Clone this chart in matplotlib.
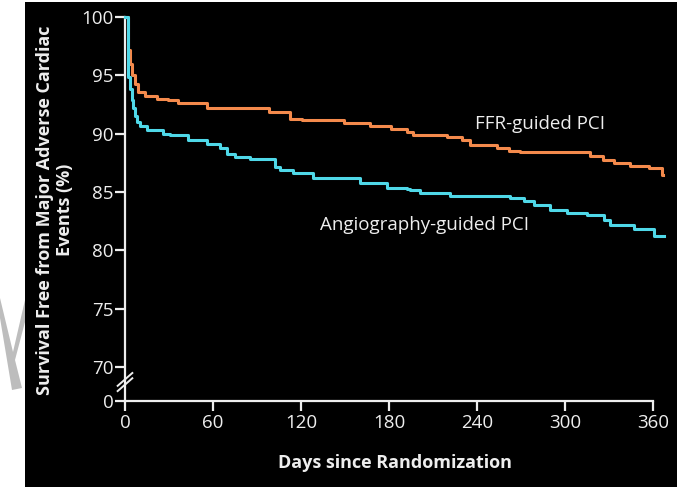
import matplotlib
matplotlib.use('Agg')
import matplotlib.pyplot as plt
from matplotlib.patches import Rectangle, Polygon

# FFR-guided PCI (Kaplan-Meier, days / % event free)
ffr_days = [0, 2, 3.5, 5, 7, 9, 13.6, 21.6, 29.5, 36.4, 55.7, 97.8, 112.5, 120.5, 149, 167,
            181, 192, 196.6, 219.3, 229.5, 235.2, 253.4, 261.4, 269.3, 317, 326, 333, 344.3,
            356.8, 365.9, 366.5]
ffr_vals = [100, 97.2, 96.0, 95.0, 94.3, 93.6, 93.2, 93.0, 92.9, 92.6, 92.2, 91.9, 91.3, 91.2,
            90.9, 90.65, 90.4, 90.15, 89.9, 89.75, 89.45, 89.05, 88.75, 88.55, 88.4, 88.1, 87.75,
            87.45, 87.25, 87.05, 86.5, 86.5]

# Angiography-guided PCI
ang_days = [0, 2.3, 3.5, 4.5, 5.5, 6.8, 8.5, 10.2, 14.8, 26.1, 30.7, 43.2, 55.7, 64.8, 69.3,
            75, 85.2, 102.3, 105.7, 114.8, 128.4, 160.2, 178.4, 192, 194.3, 201.1, 221.6,
            262.5, 271.6, 278.4, 289.8, 301.1, 314.8, 326.1, 330.7, 346.6, 360.2, 367]
ang_vals = [100, 94.9, 93.8, 92.9, 92.2, 91.5, 91.0, 90.7, 90.3, 90.0, 89.9, 89.45, 89.1, 88.75,
            88.3, 88.0, 87.8, 87.15, 86.9, 86.6, 86.2, 85.75, 85.35, 85.3, 85.15, 84.95, 84.65,
            84.45, 84.25, 83.9, 83.5, 83.2, 83.0, 82.65, 82.15, 81.8, 81.2, 81.2]

x_ticks = [0, 60, 120, 180, 240, 300, 360]
y_ticks = [70, 75, 80, 85, 90, 95, 100]
ZERO = 67.1  # where "0" sits below the axis break

ORANGE = '#f48a4c'
CYAN = '#4fd8e8'
FG = '#eeeeee'

plt.rcParams['font.family'] = ['Open Sans', 'DejaVu Sans']

W, H = 677, 487
fig = plt.figure(figsize=(6.77, 4.87), dpi=100, facecolor='white')
# black panel of the slide
fig.patches.append(Rectangle((25 / W, 0), 1, 485 / H, transform=fig.transFigure,
                             facecolor='black', edgecolor='none', zorder=0))
# bit of watermark showing on the white margin
wm = [(0, 298), (0, 318), (12, 390), (22, 388), (15, 360), (25, 322), (25, 300), (13, 352)]
fig.patches.append(Polygon([(x / W, 1 - y / H) for x, y in wm], closed=True,
                           transform=fig.transFigure, facecolor='#bdbdbd', edgecolor='none', zorder=1))

ax = fig.add_axes([125 / W, 86 / H, 540 / W, 384 / H])
ax.set_zorder(3)
ax.set_facecolor('none')

ax.step(ffr_days, ffr_vals, where='post', color=ORANGE, lw=2.2, clip_on=False, zorder=3)
ax.step(ang_days, ang_vals, where='post', color=CYAN, lw=2.2, clip_on=False, zorder=4)

ax.set_xlim(0, 368)
ax.set_ylim(ZERO, 100)

for s in ['top', 'right']:
    ax.spines[s].set_visible(False)
for s in ['left', 'bottom']:
    ax.spines[s].set_color(FG)
    ax.spines[s].set_linewidth(1.6)
ax.spines['bottom'].set_bounds(0, 360)

ax.set_xticks(x_ticks)
ax.set_xticklabels([str(t) for t in x_ticks])
ax.set_yticks([ZERO] + y_ticks)
ax.set_yticklabels(['0'] + [str(t) for t in y_ticks])
ax.tick_params(colors=FG, labelcolor=FG, labelsize=13.5, length=7, width=1.6, direction='out')
ax.tick_params(axis='y', pad=1)
ax.tick_params(axis='x', pad=2)

# axis break marks
for dy in (0.0, 0.45):
    ax.plot([-5, 5], [67.95 + dy, 69.05 + dy], color=FG, lw=1.4, clip_on=False, zorder=5)

ax.text(238.6, 90.83, 'FFR-guided PCI', color=FG, fontsize=13.5, va='center', ha='left')
ax.text(133, 82.18, 'Angiography-guided PCI', color=FG, fontsize=13.5, va='center', ha='left')

ax.set_xlabel('Days since Randomization', color=FG, fontsize=13, fontweight='bold', labelpad=16)
fig.text(55 / W, 1 - 210 / H, 'Survival Free from Major Adverse Cardiac\nEvents (%)',
         rotation=90, ha='center', va='center', color=FG, fontsize=13, fontweight='bold',
         linespacing=1.2)

fig.savefig('out.png', dpi=100, facecolor='white')
